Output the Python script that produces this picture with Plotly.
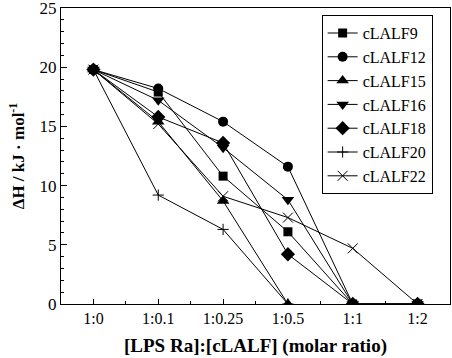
import plotly.graph_objects as go

ratios = ["1:0", "1:0.1", "1:0.25", "1:0.5", "1:1", "1:2"]
series_names = ["cLALF9", "cLALF12", "cLALF15", "cLALF16", "cLALF18", "cLALF20", "cLALF22"]
cLALF9 = [19.8, 17.9, 10.8, 6.1, 0, 0]
cLALF12 = [19.8, 18.2, 15.4, 11.6, 0, 0]
cLALF15 = [19.8, 15.4, 8.7, 0, None, None]
cLALF16 = [19.8, 17.2, 13.2, 8.8, 0, 0]
cLALF18 = [19.8, 15.8, 13.6, 4.2, 0, 0]
cLALF20 = [19.8, 9.2, 6.3, 0, None, None]
cLALF22 = [19.8, 15.2, 9.1, 7.3, 4.7, 0]
y_ticks = [0, 5, 10, 15, 20, 25]

values = [cLALF9, cLALF12, cLALF15, cLALF16, cLALF18, cLALF20, cLALF22]
symbols = ["square", "circle", "triangle-up", "triangle-down", "diamond", "cross-thin", "x-thin"]
sizes = [9, 10, 11, 11, 11, 8, 10]

xpos = list(range(len(ratios)))
font = "Liberation Serif, serif"

fig = go.Figure()
for name, vals, sym, sz in zip(series_names, values, symbols, sizes):
    thin = "thin" in sym
    fig.add_trace(go.Scatter(
        x=xpos, y=vals, name=name, mode="lines+markers",
        line=dict(color="black", width=1),
        marker=dict(symbol=sym, size=sz, color="black",
                    line=dict(color="black", width=1 if thin else 0)),
        connectgaps=False,
    ))

fig.update_layout(
    width=452, height=358,
    margin=dict(l=61, r=2, t=8, b=54),
    paper_bgcolor="white", plot_bgcolor="white",
    font=dict(family=font, size=16, color="black"),
    legend=dict(
        x=0.67, y=0.976, xanchor="left", yanchor="top",
        bordercolor="black", borderwidth=1, bgcolor="white",
        font=dict(family=font, size=16, color="black"),
        tracegroupgap=0,
    ),
)
fig.update_xaxes(
    range=[-0.5, 5.5], tickmode="array", tickvals=xpos, ticktext=ratios,
    ticks="inside", ticklen=5, tickcolor="black",
    showline=True, linecolor="black", linewidth=1, mirror=True,
    showgrid=False, zeroline=False, automargin=False,
    tickfont=dict(family=font, size=16),
    minor=dict(tickmode="array", tickvals=[i + 0.5 for i in xpos[:-1]],
               ticks="inside", ticklen=3, tickcolor="black", showgrid=False),
    title=dict(text="<b>[LPS Ra]:[cLALF] (molar ratio)</b>",
               font=dict(family=font, size=19), standoff=12),
)
fig.update_yaxes(
    range=[0, 25], tickmode="array", tickvals=y_ticks,
    ticks="inside", ticklen=6, tickcolor="black",
    showline=True, linecolor="black", linewidth=1, mirror=True,
    showgrid=False, zeroline=False, automargin=False,
    ticklabeloverflow="allow",
    tickfont=dict(family=font, size=17),
    minor=dict(dtick=1, ticks="inside", ticklen=3, tickcolor="black", showgrid=False),
    title=dict(text="<b>ΔH / kJ · mol<sup>-1</sup></b>",
               font=dict(family=font, size=17), standoff=10),
)

fig.write_html(
    "out.html",
    config={"displayModeBar": False},
    post_script="document.body.style.margin='0';",
)
